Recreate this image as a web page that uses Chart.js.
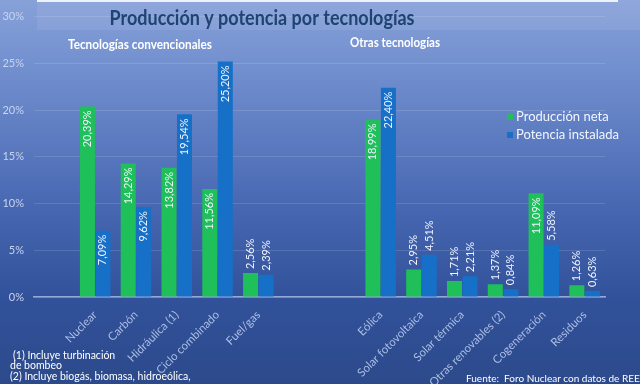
<!DOCTYPE html>
<html>
<head>
<meta charset="utf-8">
<script src="https://cdn.jsdelivr.net/npm/chart.js@4.4.1/dist/chart.umd.min.js"></script>
<style>
  html, body { margin: 0; padding: 0; background: #2c4a8c; }
  #wrap { width: 640px; height: 384px; position: relative; }
</style>
</head>
<body>
<div id="wrap"><canvas id="chart" width="640" height="384"></canvas></div>
<script>
const categorias = ['', 'Nuclear', 'Carbón', 'Hidráulica (1)', 'Ciclo combinado', 'Fuel/gas', '', '',
  'Eólica', 'Solar fotovoltaica', 'Solar térmica', 'Otras renovables (2)', 'Cogeneración', 'Residuos'];
const produccionNeta = [null, 20.39, 14.29, 13.82, 11.56, 2.56, null, null, 18.99, 2.95, 1.71, 1.37, 11.09, 1.26];
const potenciaInstalada = [null, 7.09, 9.62, 19.54, 25.20, 2.39, null, null, 22.40, 4.51, 2.21, 0.84, 5.58, 0.63];
const yTicks = [0, 5, 10, 15, 20, 25, 30];

const verde = '#1fbf5a';
const azul = '#1670c8';
const fuente = 'Lato, "Open Sans", sans-serif';

const fmt = v => v.toFixed(2).replace('.', ',') + '%';

// texto centrado y ajustado a un ancho dado
function textoAncho(ctx, txt, cx, cy, ancho) {
  const w = ctx.measureText(txt).width;
  ctx.save();
  ctx.translate(cx, cy);
  ctx.scale(Math.min(1, ancho / w), 1);
  ctx.fillText(txt, 0, 0);
  ctx.restore();
}

// fondo, titulo y notas
const decor = {
  id: 'decor',
  beforeDraw(c) {
    const ctx = c.ctx;
    const g = ctx.createLinearGradient(0, 0, 0, 384);
    g.addColorStop(0, '#87a1d9');
    g.addColorStop(0.2, '#6f8dcd');
    g.addColorStop(0.55, '#4666b1');
    g.addColorStop(0.78, '#31519a');
    g.addColorStop(1, '#2c4a8b');
    ctx.save();
    ctx.fillStyle = g;
    ctx.fillRect(0, 0, 640, 384);
    ctx.fillStyle = 'rgba(255,255,255,0.07)';
    ctx.fillRect(37, 0, 603, 30);
    ctx.fillStyle = 'rgba(255,255,255,0.85)';
    ctx.fillRect(37, 0, 581, 2);
    ctx.restore();
  },
  afterDraw(c) {
    const ctx = c.ctx;
    ctx.save();
    ctx.textBaseline = 'middle';
    ctx.textAlign = 'center';
    ctx.fillStyle = '#1f4373';
    ctx.font = 'bold 21px ' + fuente;
    textoAncho(ctx, 'Producción y potencia por tecnologías', 262, 18, 305);
    ctx.fillStyle = '#ffffff';
    ctx.font = 'bold 13.5px ' + fuente;
    textoAncho(ctx, 'Tecnologías convencionales', 140, 45, 144);
    textoAncho(ctx, 'Otras tecnologías', 395, 43, 90);

    // leyenda
    ctx.textAlign = 'left';
    ctx.font = '13px ' + fuente;
    c.data.datasets.forEach((ds, i) => {
      const y = 117 + i * 18;
      ctx.fillStyle = ds.backgroundColor;
      ctx.fillRect(507, y - 3, 6, 6);
      ctx.fillStyle = '#f2f5ff';
      ctx.fillText(ds.label, 516, y);
    });

    ctx.fillStyle = '#ffffff';
    ctx.font = '10.5px ' + fuente;
    ctx.fillText('(1) Incluye turbinación', 13, 356);
    ctx.fillText('de bombeo', 10, 366);
    ctx.fillText('(2) Incluye biogás, biomasa, hidroeólica,', 10, 377);
    ctx.font = '10px ' + fuente;
    ctx.fillText('Fuente:  Foro Nuclear con datos de REE', 466, 379);
    ctx.restore();
  }
};

// etiquetas de valor giradas
const etiquetas = {
  id: 'etiquetas',
  afterDatasetsDraw(c) {
    const ctx = c.ctx;
    ctx.save();
    ctx.font = '11px ' + fuente;
    ctx.fillStyle = '#eef3ff';
    ctx.textBaseline = 'middle';
    c.data.datasets.forEach((ds, i) => {
      c.getDatasetMeta(i).data.forEach((el, j) => {
        const v = ds.data[j];
        if (v == null) return;
        ctx.save();
        if (v > 6) {
          ctx.translate(el.x, el.y + 4);
          ctx.rotate(-Math.PI / 2);
          ctx.textAlign = 'right';
        } else {
          ctx.translate(el.x, el.y - 4);
          ctx.rotate(-Math.PI / 2);
          ctx.textAlign = 'left';
        }
        ctx.fillText(fmt(v), 0, 0);
        ctx.restore();
      });
    });
    ctx.restore();
  }
};

new Chart(document.querySelector('#chart').getContext('2d'), {
  type: 'bar',
  data: {
    labels: categorias,
    datasets: [
      { label: 'Producción neta', data: produccionNeta, backgroundColor: verde },
      { label: 'Potencia instalada', data: potenciaInstalada, backgroundColor: azul }
    ]
  },
  options: {
    responsive: false,
    animation: false,
    layout: { padding: { top: 5, right: 35, left: 0, bottom: 0 } },
    datasets: { bar: { categoryPercentage: 0.76, barPercentage: 0.97 } },
    plugins: { legend: { display: false }, tooltip: { enabled: false } },
    scales: {
      x: {
        grid: { display: false },
        border: { color: '#94a9d6', width: 1.5 },
        ticks: { color: '#acbee5', font: { family: fuente, size: 11.5 }, minRotation: 45, maxRotation: 45, padding: 3, autoSkip: false },
        afterFit: s => { s.height = 87; }
      },
      y: {
        min: 0, max: 30,
        afterBuildTicks: s => { s.ticks = yTicks.map(v => ({ value: v })); },
        grid: { color: 'rgba(255,255,255,0.13)', drawTicks: false },
        border: { display: false },
        ticks: { color: '#c9d4ee', font: { family: fuente, size: 11 }, padding: 10, callback: v => v + '%' },
        afterFit: s => { s.width = 34; }
      }
    }
  },
  plugins: [decor, etiquetas]
});
</script>
</body>
</html>
